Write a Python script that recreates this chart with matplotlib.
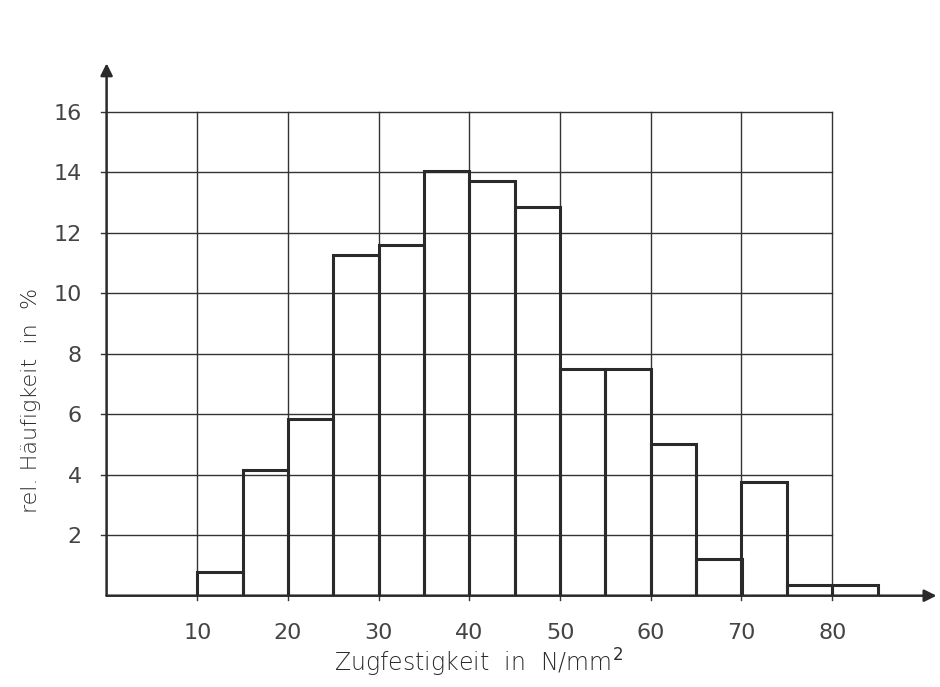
import numpy as np
import matplotlib.pyplot as plt

# class edges (N/mm^2) and relative frequency per class (%)
bin_left = [10, 15, 20, 25, 30, 35, 40, 45, 50, 55, 60, 65, 70, 75, 80]
bin_width = 5
rel_freq = [0.8, 4.15, 5.85, 11.25, 11.6, 14.05, 13.7, 12.85,
            7.5, 7.5, 5.0, 1.2, 3.75, 0.35, 0.35]

x_ticks = [10, 20, 30, 40, 50, 60, 70, 80]
y_ticks = [2, 4, 6, 8, 10, 12, 14, 16]

ink = "#2a2a2a"
num_font = ["Liberation Sans Narrow", "DejaVu Sans"]

fig = plt.figure(figsize=(9.4, 6.87), dpi=100)
# x: 0 at 106.6 px, 9.07 px per unit; y: 0 at 91.3 px from bottom, 30.25 px per unit
ax = fig.add_axes([106.6 / 940, 91.3 / 687, 91.5 * 9.07 / 940, 17.6 * 30.25 / 687])
ax.set_xlim(0, 91.5)
ax.set_ylim(0, 17.6)

# grid only over the labelled range 0..80 x 0..16
for xv in x_ticks:
    ax.plot([xv, xv], [-0.15, 16], color="#333333", lw=1.0, clip_on=False, zorder=1)
for yv in y_ticks:
    ax.plot([-0.6, 80], [yv, yv], color="#333333", lw=1.0, clip_on=False, zorder=1)

ax.bar(bin_left, rel_freq, width=bin_width, align="edge", fill=False,
       edgecolor=ink, linewidth=2.2, zorder=2)

# axes with arrow heads
for tip in [(91.5, 0), (0, 17.6)]:
    ax.annotate("", xy=tip, xytext=(0, 0),
                arrowprops=dict(arrowstyle="-|>", color=ink, lw=1.8,
                                mutation_scale=18, shrinkA=0, shrinkB=0),
                annotation_clip=False, zorder=3)

for s in ax.spines.values():
    s.set_visible(False)
ax.set_xticks(x_ticks)
ax.set_yticks(y_ticks)
ax.tick_params(length=0, labelsize=16, colors="#444444")
ax.tick_params(axis="x", pad=20)
ax.tick_params(axis="y", pad=18)
for lab in ax.get_xticklabels() + ax.get_yticklabels():
    lab.set_family(num_font)

fig.text(478 / 940, 1 - 663 / 687, "Zugfestigkeit  in  N/mm$^2$", fontsize=17,
         color=ink, ha="center", va="center", fontweight="light")
fig.text(31 / 940, 1 - 400 / 687, "rel. Häufigkeit  in  %", fontsize=16,
         color=ink, ha="center", va="center", rotation=90, fontweight="light")

fig.savefig("out.png", dpi=100)
